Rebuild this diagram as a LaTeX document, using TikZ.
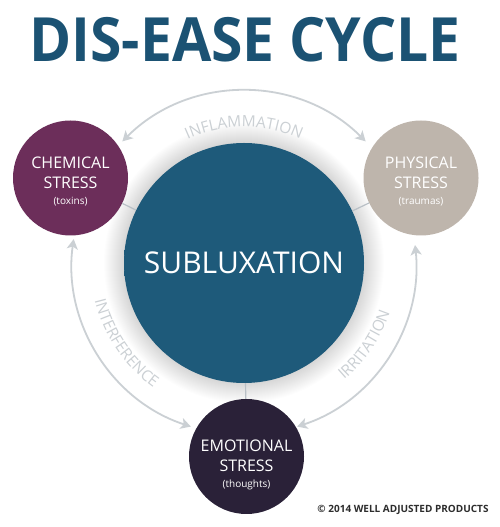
\documentclass[tikz,border=0pt]{standalone}
\usepackage{fontspec}
\setmainfont{Open Sans}
\usetikzlibrary{arrows.meta,decorations.text}
\definecolor{titleblue}{RGB}{27,82,115}
\definecolor{subin}{RGB}{30,90,122}
\definecolor{subout}{RGB}{19,62,90}
\definecolor{chemcol}{RGB}{108,46,90}
\definecolor{physcol}{RGB}{190,181,172}
\definecolor{emocol}{RGB}{42,33,56}
\definecolor{arcgray}{RGB}{203,208,212}
\definecolor{linegray}{RGB}{185,192,198}
\definecolor{copygray}{RGB}{45,45,45}
\pgfdeclareradialshading{subshade}{\pgfpoint{0bp}{0bp}}{color(0bp)=(subin); color(30bp)=(subin); color(50bp)=(subout)}
\newcommand\arcfont{\fontsize{15.5}{15.5}\selectfont}
\newcommand\smalllab{\fontsize{10}{12}\selectfont}
\begin{document}
\begin{tikzpicture}[x=1pt,y=1pt,
  bubble/.style={circle, minimum size=115pt, inner sep=0pt, text=white, align=center,
    font=\fontsize{16}{20}\selectfont},
  conn/.style={draw=linegray, line width=1.2pt},
  cyclearrow/.style={draw=arcgray, line width=1.8pt,
    {Stealth[length=10pt,width=11pt,inset=2.5pt]}-{Stealth[length=10pt,width=11pt,inset=2.5pt]}},
  arclabel/.style={decorate, decoration={text along path, text align=center, text color=arcgray,
    text format delimiters={|}{|}}}
]
\fill[white] (0,0) rectangle (500,527);
\useasboundingbox (0,0) rectangle (500,527);
\coordinate (S) at (244,264);
% glow
\foreach \rr in {121,...,140} { \fill[black, opacity=0.006] (S) circle[radius=\rr pt]; }
% title
\node[font=\bfseries\fontsize{61}{61}\selectfont, text=titleblue, inner sep=0pt] (title) at (245,487) {\scalebox{0.935}[1]{DIS-EASE CYCLE}};
% circles
\node[circle, minimum size=240pt, inner sep=0pt, shade, shading=subshade, text=white,
  font=\fontsize{30}{30}\selectfont] (sub) at (S) {SUBLUXATION};
\node[bubble, fill=chemcol] (chem) at (70.5,349) {\rule{0pt}{18.8pt}CHEMICAL\\STRESS\\[-4pt]{\smalllab (toxins)}};
\node[bubble, fill=physcol] (phys) at (421,349) {\rule{0pt}{18.8pt}PHYSICAL\\STRESS\\[-4pt]{\smalllab (traumas)}};
\node[bubble, fill=emocol] (emo) at (246.5,70.5) {\rule{0pt}{28pt}EMOTIONAL\\STRESS\\[-4pt]{\smalllab (thoughts)}};
% connectors
\draw[conn] (chem) -- (sub);
\draw[conn] (phys) -- (sub);
\draw[conn] (emo) -- (sub);
% cycle arcs
\draw[cyclearrow] ([shift={(135:172)}]S) arc[start angle=135, end angle=45, radius=172];
\draw[cyclearrow] ([shift={(172:172)}]S) arc[start angle=172, end angle=252, radius=172];
\draw[cyclearrow] ([shift={(288:172)}]S) arc[start angle=288, end angle=366, radius=172];
% arc labels
\path[arclabel, decoration={text={|\arcfont|INFLAMMATION}}] ([shift={(130:136)}]S) arc[start angle=130, end angle=50, radius=136];
\path[arclabel, decoration={text={|\arcfont|INTERFERENCE}}] ([shift={(184:154)}]S) arc[start angle=184, end angle=244, radius=154];
\path[arclabel, decoration={text={|\arcfont|IRRITATION}}] ([shift={(296:154)}]S) arc[start angle=296, end angle=356, radius=154];
% copyright
\node[font=\bfseries\fontsize{10}{11}\selectfont, text=copygray, inner sep=0pt] (copy) at (403,17) {© 2014 WELL ADJUSTED PRODUCTS};
\end{tikzpicture}
\end{document}
